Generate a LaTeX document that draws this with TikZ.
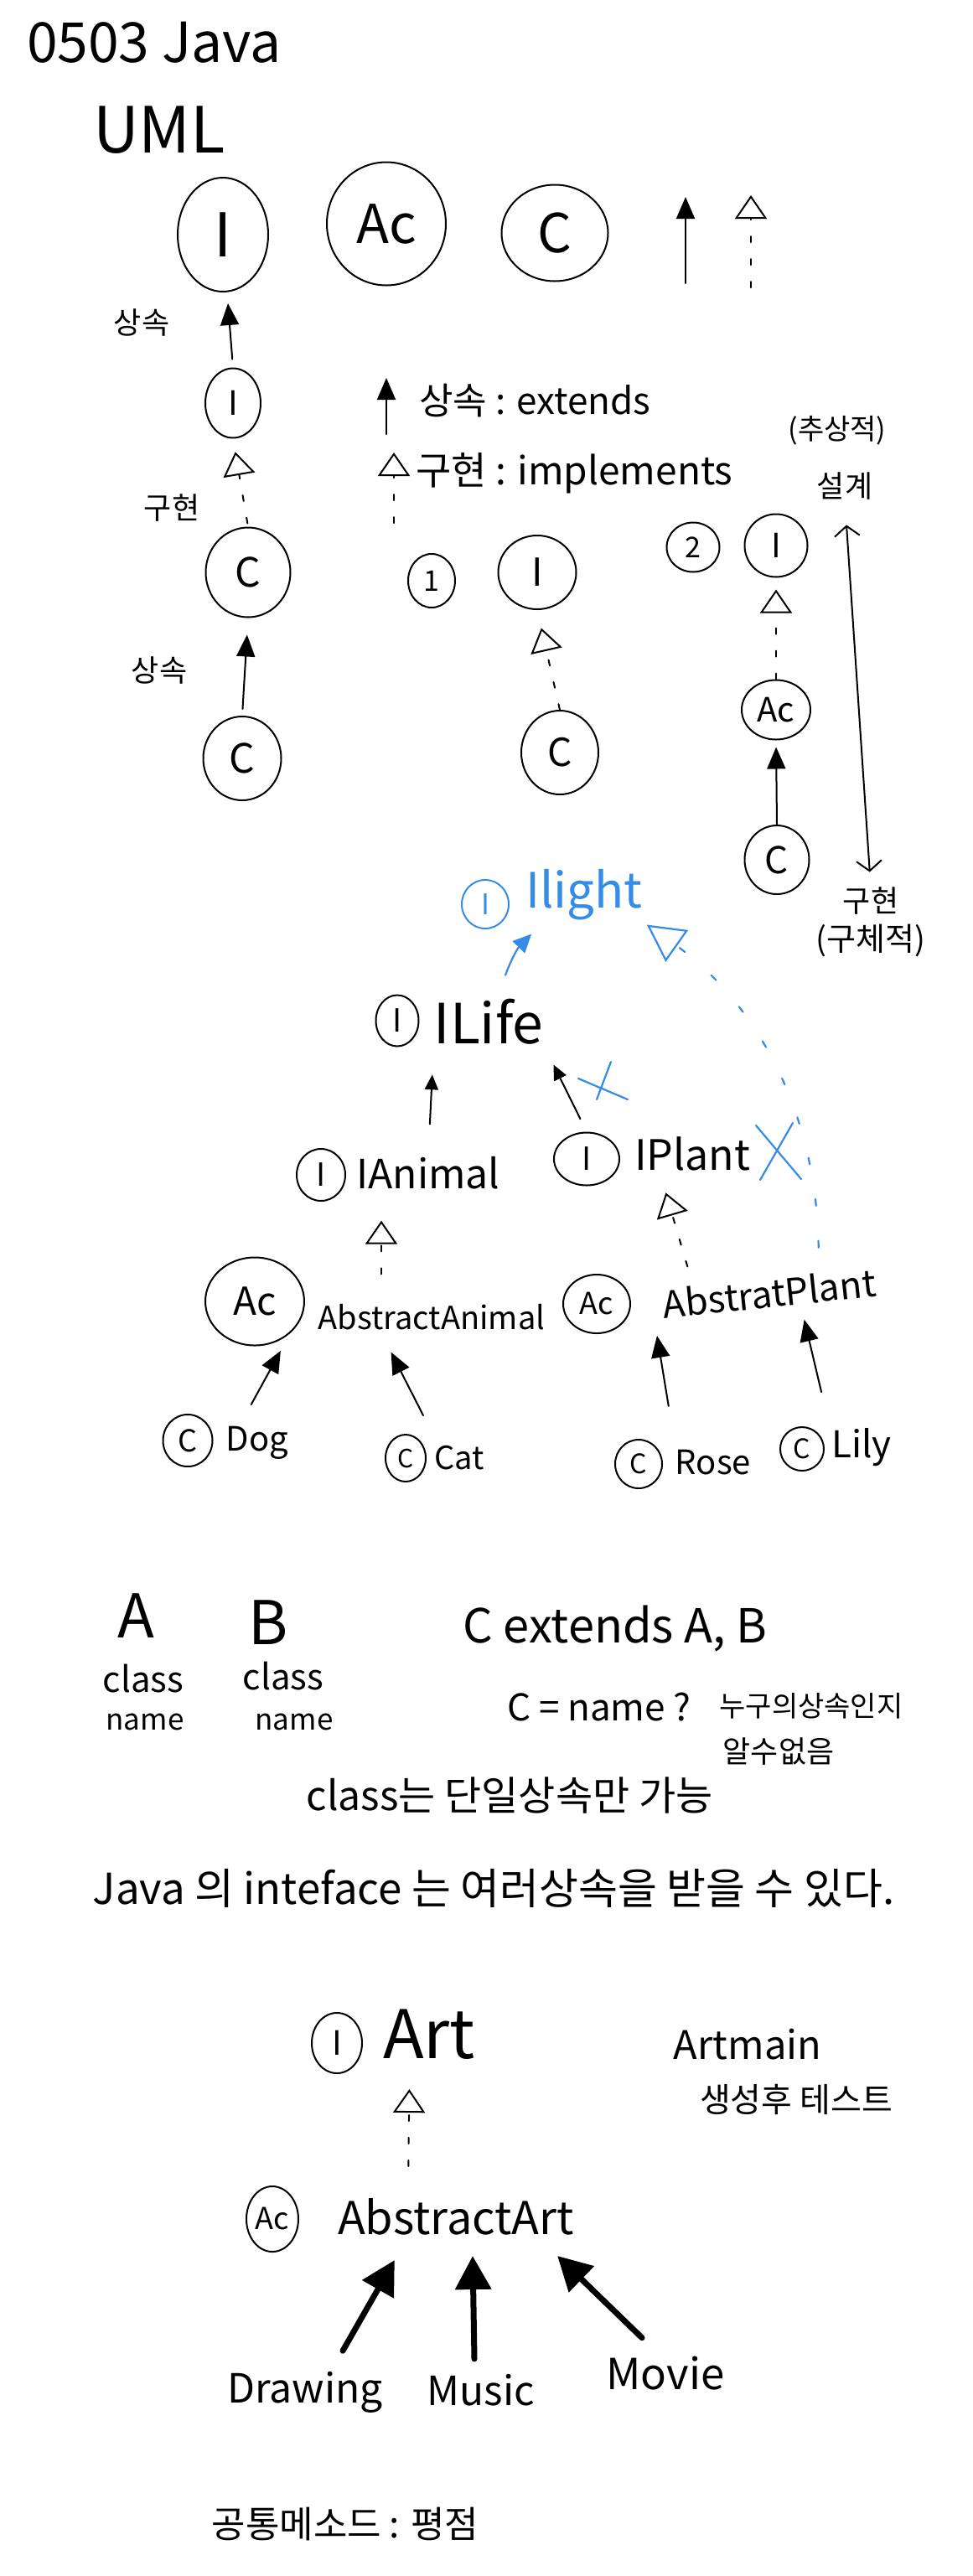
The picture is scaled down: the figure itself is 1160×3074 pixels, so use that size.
\documentclass[tikz,border=0pt]{standalone}
\usepackage{fontspec}
\setmainfont{Noto Sans CJK KR}
\usetikzlibrary{arrows.meta,shapes.geometric,calc}
\newcommand{\fsz}[1]{\fontsize{#1}{#1}\selectfont}
\definecolor{inkblue}{RGB}{52,140,232}
\begin{document}
\begin{tikzpicture}[x=1pt,y=-1pt,line cap=round,line join=round,
  txt/.style={inner sep=0pt,font=\fsz{#1}},
  circ/.style={draw,ellipse,line width=2pt,inner sep=0pt},
  inh/.style={line width=2pt,-{Triangle[length=26pt,width=22pt]}},
  inhS/.style={line width=2pt,-{Triangle[length=18pt,width=16pt]}},
  impl/.style={line width=2pt,dash pattern=on 7pt off 20pt,-{Triangle[open,length=28pt,width=38pt,line width=2pt]}},
  binh/.style={line width=2.2pt,draw=inkblue,-{Triangle[length=22pt,width=20pt,fill=inkblue]}},
  bimpl/.style={line width=2.2pt,draw=inkblue,dash pattern=on 8pt off 42pt,-{Triangle[open,length=44pt,width=46pt,line width=2.2pt]}},
  dbl/.style={line width=2pt,{Straight Barb[length=12pt,width=30pt]}-{Straight Barb[length=12pt,width=30pt]}},
  thick/.style={line width=7pt,-{Triangle[length=40pt,width=42pt]}},
  bx/.style={line width=2.2pt,draw=inkblue}]
\fill[white] (0,0) rectangle (1160,3074);
\useasboundingbox (0,0) rectangle (1160,3074);

% ---------- header ----------
\node[txt=66] (title) at (184,51) {0503 Java};
\node[txt=76] (uml) at (190,155) {UML};
\node[circ,minimum width=108pt,minimum height=136pt,txt=72] (bigI) at (266,280) {I};
\node[circ,minimum width=142pt,minimum height=147pt,txt=64] (bigAc) at (461,267) {Ac};
\node[circ,minimum width=127pt,minimum height=115pt,txt=64] (bigC) at (662,278) {C};
\coordinate (ta0) at (818,338); \coordinate (ta1) at (818,235);
\draw[inh] (ta0) -- (ta1);
\coordinate (tb0) at (896,343); \coordinate (tb1) at (896,233);
\draw[impl] (tb0) -- (tb1);

% ---------- left column ----------
\node[txt=36] (lb1) at (169,385) {상속};
\node[circ,minimum width=66pt,minimum height=83pt,txt=40] (sI) at (278,481) {I};
\coordinate (sIup) at (272,362);
\draw[inh,shorten <=10pt] (sI.north) -- (sIup);
\node[txt=36] (lb2) at (205,606) {구현};
\node[circ,minimum width=101pt,minimum height=107pt,txt=48] (sC) at (296,683) {C};
\draw[impl,shorten >=16pt,shorten <=4pt] (sC.north) -- (sI.south);
\node[txt=36] (lb3) at (190,800) {상속};
\node[circ,minimum width=93pt,minimum height=100pt,txt=48] (sC2) at (289,905) {C};
\draw[inh,shorten <=8pt,shorten >=20pt] (sC2.north) -- (sC.south);

% ---------- legend ----------
\coordinate (l1a) at (461,518); \coordinate (l1b) at (461,451);
\draw[inh] (l1a) -- (l1b);
\node[txt=44,anchor=west] (leg1) at (500,478) {상속 : extends};
\coordinate (l2a) at (470,624); \coordinate (l2b) at (470,540);
\draw[impl] (l2a) -- (l2b);
\node[txt=46,anchor=west] (leg2) at (496,565) {구현 : implements};

% ---------- example 1 ----------
\node[circ,minimum width=56pt,minimum height=64pt,txt=34] (n1) at (515,693) {1};
\node[circ,minimum width=93pt,minimum height=88pt,txt=46] (mI) at (641,683) {I};
\node[circ,minimum width=92pt,minimum height=100pt,txt=46] (mC) at (668,898) {C};
\draw[impl,shorten >=22pt] (mC.north) -- (mI.south);

% ---------- example 2 ----------
\node[circ,minimum width=63pt,minimum height=59pt,txt=34] (n2) at (827,653) {2};
\node[circ,minimum width=75pt,minimum height=75pt,txt=40] (rI) at (926,651) {I};
\node[circ,minimum width=82pt,minimum height=71pt,txt=40] (rAc) at (926,847) {Ac};
\node[circ,minimum width=77pt,minimum height=82pt,txt=44] (rC) at (927,1026) {C};
\draw[impl,shorten >=14pt] (rAc.north) -- (rI.south);
\draw[inh,shorten >=8pt] (rC.north) -- (rAc.south);

\node[txt=34] (abs) at (999,514) {(추상적)};
\node[txt=36] (des) at (1008,580) {설계};
\node[txt=36] (impK) at (1039,1075) {구현};
\node[txt=38] (conc) at (1039,1122) {(구체적)};
\draw[dbl,shorten <=30pt,shorten >=18pt] (des.south) -- (impK.north);

% ---------- ILife hierarchy ----------
\node[circ,draw=inkblue,text=inkblue,minimum width=56pt,minimum height=58pt,txt=34] (bI) at (579,1079) {I};
\node[txt=58,text=inkblue] (light) at (697,1068) {Ilight};
\node[circ,minimum width=51pt,minimum height=61pt,txt=38] (lI) at (474,1218) {I};
\node[txt=66] (life) at (583,1219) {ILife};
\draw[binh] ($(life.north)+(20,-28)$) to[bend left=12] ($(light.south west)+(7,16)$);

\node[circ,minimum width=58pt,minimum height=62pt,txt=38] (aI) at (383,1402) {I};
\node[txt=48] (ian) at (511,1400) {IAnimal};
\node[circ,minimum width=78pt,minimum height=63pt,txt=38] (pI) at (700,1383) {I};
\node[txt=50] (ipl) at (826,1377) {IPlant};
\draw[inhS,shorten <=39pt,shorten >=36pt] (ian.north) -- (life.south west);
\draw[inhS,shorten <=17pt,shorten >=27pt] (pI.north) -- (life.south east);

\node[circ,minimum width=118pt,minimum height=105pt,txt=46] (acA) at (304,1553) {Ac};
\node[txt=38] (aa) at (515,1572) {AbstractAnimal};
\node[circ,minimum width=80pt,minimum height=70pt,txt=36] (acP) at (712,1556) {Ac};
\node[txt=44,rotate=6] (ap) at (918,1543) {AbstratPlant};

\draw[impl,shorten <=36pt,shorten >=37pt] ($(aa.north)+(-60,0)$) -- ($(ian.south)+(-56,0)$);
\draw[impl,shorten <=24pt,shorten >=27pt] ($(ap.north west)!0.15!(ap.north east)$) -- ($(ipl.south west)+(30,0)$);
\draw[bimpl,shorten <=30pt] ($(ap.north west)!0.74!(ap.north east)$) .. controls (974,1300) and (880,1180) .. ($(light.south east)+(5,5)$);

% blue crosses
\draw[bx] (690,1287) -- (749,1312) (729,1267) -- (712,1312);
\draw[bx] (902,1343) -- (956,1407) (946,1340) -- (907,1408);

\node[circ,minimum width=59pt,minimum height=62pt,txt=36] (cD) at (224,1719) {C};
\node[txt=40] (tD) at (307,1722) {Dog};
\node[circ,minimum width=48pt,minimum height=56pt,txt=30] (cCat) at (484,1740) {C};
\node[txt=38] (tCat) at (548,1740) {Cat};
\node[circ,minimum width=56pt,minimum height=58pt,txt=32] (cR) at (762,1747) {C};
\node[txt=40] (tR) at (851,1745) {Rose};
\node[circ,minimum width=52pt,minimum height=52pt,txt=32] (cL) at (957,1729) {C};
\node[txt=44] (tL) at (1028,1727) {Lily};

\draw[inh,shorten >=24pt] ($(tD.north west)+(30,-26)$) -- (acA.south east);
\draw[inh] ($(cCat.north)+(21,-22)$) -- ($(aa.south west)+(87,26)$);
\draw[inh,shorten >=20pt] ($(tR.north west)+(-8,-52)$) -- ($(ap.south west)+(-12,0)$);
\draw[inh,shorten >=18pt] ($(tL.north west)+(-12,-43)$) -- ($(ap.south)!0.28!(ap.south east)$);

% ---------- multiple inheritance notes ----------
\node[txt=72] (nA) at (162,1928) {A};
\node[txt=72] (nB) at (320,1936) {B};
\node[txt=42] (cl1) at (171,2003) {class};
\node[txt=42] (cl2) at (338,2000) {class};
\node[txt=35] (nm1) at (173,2055) {name};
\node[txt=35] (nm2) at (351,2055) {name};
\node[txt=56] (ext) at (734,1944) {C extends A, B};
\node[txt=44] (cq) at (715,2037) {C = name ?};
\node[txt=34] (who) at (968,2036) {누구의상속인지};
\node[txt=36] (unk) at (929,2090) {알수없음};
\node[txt=48] (single) at (608,2142) {class는 단일상속만 가능};
\node[txt=51] (multi) at (589,2253) {Java 의 inteface 는 여러상속을 받을 수 있다.};

% ---------- Art ----------
\node[circ,minimum width=60pt,minimum height=72pt,txt=40] (artI) at (402,2438) {I};
\node[txt=80] (art) at (512,2428) {Art};
\node[txt=47] (am) at (892,2440) {Artmain};
\node[txt=40] (amt) at (950,2505) {생성후 테스트};
\node[circ,minimum width=62pt,minimum height=78pt,txt=36] (abAc) at (325,2648) {Ac};
\node[txt=54] (ab) at (544,2645) {AbstractArt};
\draw[impl,shorten <=38pt,shorten >=35pt] ($(ab.north west)+(84,0)$) -- ($(art.south west)+(32,0)$);

\node[txt=48] (dr) at (364,2855) {Drawing};
\node[txt=48] (mu) at (574,2852) {Music};
\node[txt=51] (mo) at (794,2832) {Movie};
\draw[thick] ($(dr.north)+(45,-25)$) -- ($(ab.south west)+(68,30)$);
\draw[thick] ($(mu.north)+(-8,-18)$) -- ($(ab.south)+(20,25)$);
\draw[thick] ($(mo.north)+(-28,-22)$) -- ($(ab.south east)+(-20,25)$);

\node[txt=44] (common) at (412,3012) {공통메소드 : 평점};
\end{tikzpicture}
\end{document}
